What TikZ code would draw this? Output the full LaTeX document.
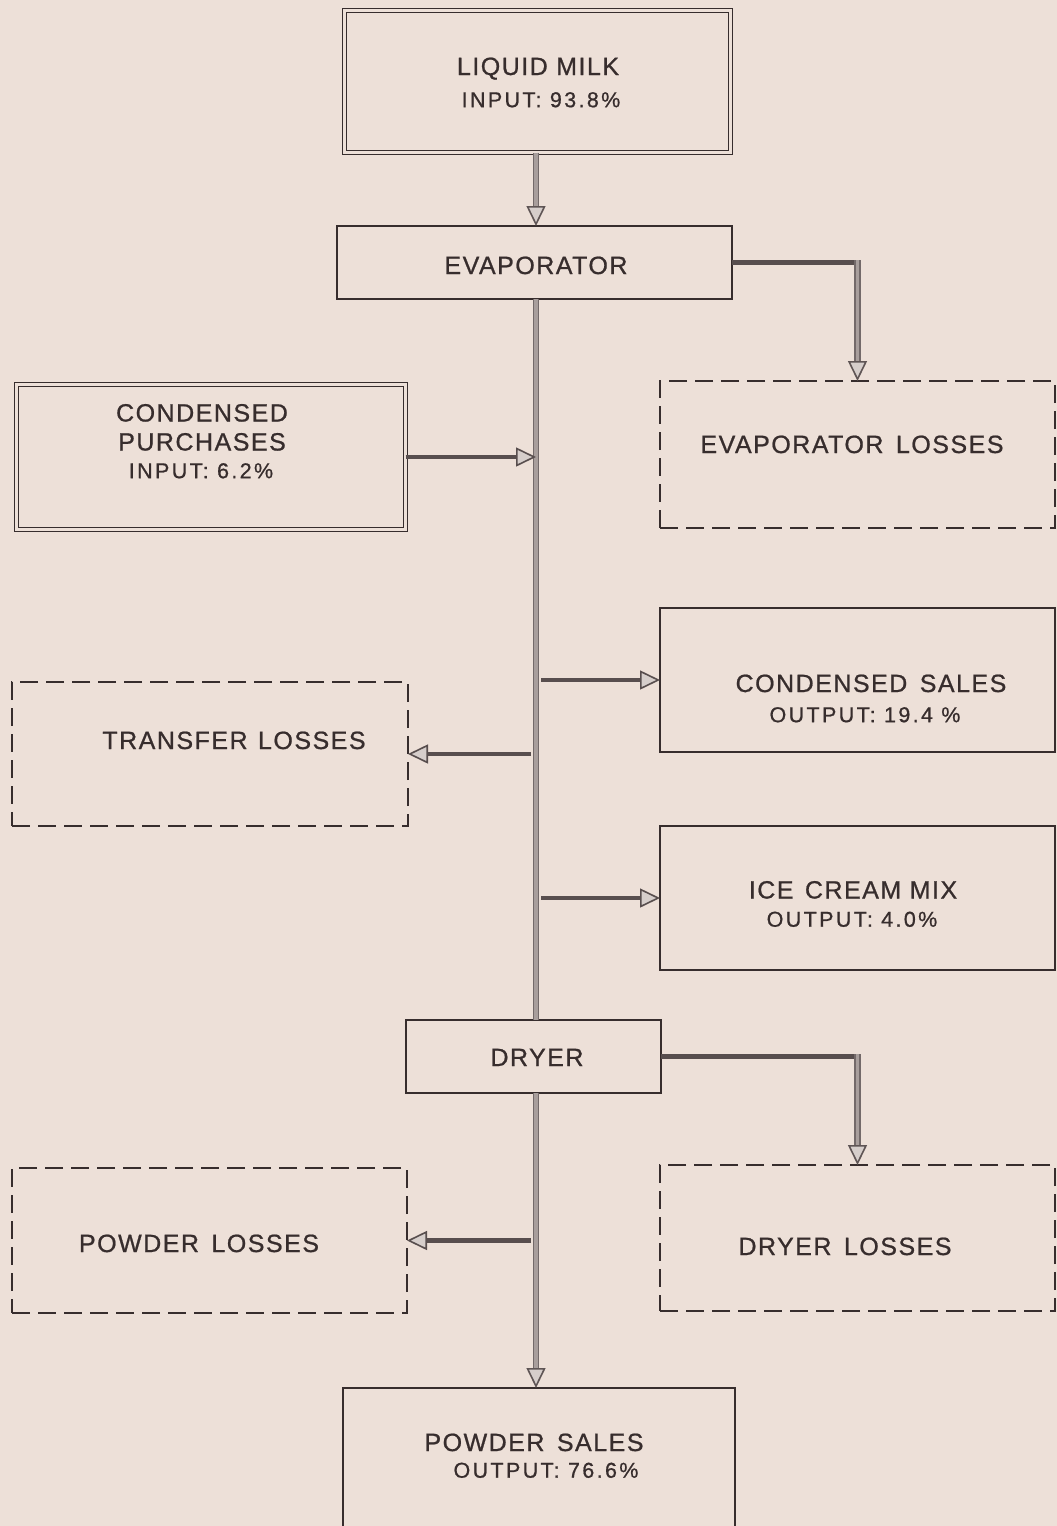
\documentclass[tikz,border=0pt]{standalone}
\usepackage{fontspec}
\setmainfont{Liberation Sans}[LetterSpace=6,FakeBold=0.8]
\usetikzlibrary{arrows.meta}
\definecolor{bg}{RGB}{237,224,216}
\definecolor{ink}{RGB}{55,45,45}
\definecolor{flow}{RGB}{88,78,78}
\definecolor{spineedge}{RGB}{115,105,105}
\definecolor{spinefill}{RGB}{168,158,156}
\definecolor{headfill}{RGB}{214,206,203}
\definecolor{headedge}{RGB}{95,85,85}
\tikzset{
  boxbase/.style={inner sep=0pt, outer sep=0pt},
  solidbox/.style={boxbase, draw=ink, line width=2.3pt},
  dblbox/.style={boxbase, draw=ink, double=bg, double distance=2.6pt, line width=1.6pt},
  dashbox/.style={boxbase, draw=ink, line width=1.9pt, dash pattern=on 18pt off 8pt},
  big/.style={font=\fontsize{25}{29}\selectfont, text=ink, text height=18pt, text depth=0pt, inner sep=0pt},
  small/.style={font=\fontsize{21.5}{25}\selectfont\addfontfeature{LetterSpace=11}, text=ink, text height=15.4pt, text depth=0pt, inner sep=0pt},
  tip/.style={-{Triangle[length=20pt,width=19pt,fill=headfill,line width=1.6pt]}},
  flowarrow/.style={draw=flow, line width=4.5pt, tip},
  flowplain/.style={draw=flow, line width=4.5pt},
  spineline/.style={draw=spineedge, double=spinefill, double distance=3.4pt, line width=1.5pt},
  headonly/.style={draw=headedge, line width=1pt, tip},
}
\begin{document}
\begin{tikzpicture}[x=1pt,y=-1pt]
\fill[bg] (0,0) rectangle (1057,1526);
\useasboundingbox (0,0) rectangle (1057,1526);
\clip (0,0) rectangle (1057,1526);
\coordinate (spine) at (536,0);
% boxes
\node[dblbox, minimum width=386pt, minimum height=142pt] (milk) at (537.5,81.5) {};
\node[solidbox, minimum width=395pt, minimum height=73pt] (evap) at (534.5,262.5) {};
\node[dashbox, minimum width=395pt, minimum height=147pt] (evloss) at (857.5,454.5) {};
\node[dblbox, minimum width=389pt, minimum height=145pt] (cpurch) at (211,457) {};
\node[solidbox, minimum width=395pt, minimum height=144pt] (csales) at (857.5,680) {};
\node[dashbox, minimum width=396pt, minimum height=144pt] (tloss) at (210,754) {};
\node[solidbox, minimum width=395pt, minimum height=144pt] (icm) at (857.5,898) {};
\node[solidbox, minimum width=255pt, minimum height=73pt] (dryer) at (533.5,1056.5) {};
\node[dashbox, minimum width=395pt, minimum height=146pt] (dloss) at (857.5,1238) {};
\node[dashbox, minimum width=395pt, minimum height=145pt] (ploss) at (209.5,1240.5) {};
\node[solidbox, minimum width=392pt, minimum height=157pt] (psales) at (539,1466.5) {};
% texts
\node[big] (tmilk) at (538,66) {LIQUID MILK};
\node[small] (tmilkb) at (541,99.5) {INPUT: 93.8\%};
\node[big] (tevap) at (536,265) {EVAPORATOR};
\node[big] (tevloss) at (852,444) {EVAPORATOR\hspace{4pt} LOSSES};
\node[big] (tcp1) at (202,412.5) {CONDENSED};
\node[big] (tcp2) at (202,441.5) {PURCHASES};
\node[small] (tcp3) at (201,470.5) {INPUT: 6.2\%};
\node[big] (tcs1) at (871,683) {CONDENSED\hspace{4pt} SALES};
\node[small] (tcs2) at (865,714.5) {OUTPUT: 19.4 \%};
\node[big] (ttl) at (234,740) {TRANSFER\hspace{2pt} LOSSES};
\node[big] (tic1) at (853,889.5) {ICE\hspace{3pt} CREAM MIX};
\node[small] (tic2) at (852,919) {OUTPUT: 4.0\%};
\node[big] (tdry) at (537,1057) {DRYER};
\node[big] (tpl) at (199,1243) {POWDER\hspace{4pt} LOSSES};
\node[big] (tdl) at (845,1246) {DRYER\hspace{4pt} LOSSES};
\node[big] (tps1) at (534,1442) {POWDER\hspace{4pt} SALES};
\node[small] (tps2) at (546,1470) {OUTPUT: 76.6\%};
% main vertical flow
\draw[spineline] (milk.south -| spine) -- ([yshift=18pt]evap.north -| spine);
\draw[headonly] ([yshift=2pt]evap.north -| spine) -- (evap.north -| spine);
\draw[spineline] (evap.south -| spine) -- (dryer.north -| spine);
\draw[spineline] (dryer.south -| spine) -- ([yshift=18pt]psales.north -| spine);
\draw[headonly] ([yshift=2pt]psales.north -| spine) -- (psales.north -| spine);
% elbow flows to loss boxes
\coordinate (ecorner) at (evloss.north |- evap.east);
\draw[flowplain] (evap.east) -- ([xshift=2.2pt]ecorner);
\draw[spineline] ([yshift=2.2pt]ecorner) -- ([yshift=18pt]evloss.north);
\draw[headonly] ([yshift=2pt]evloss.north) -- (evloss.north);
\coordinate (dcorner) at (dloss.north |- dryer.east);
\draw[flowplain] (dryer.east) -- ([xshift=2.2pt]dcorner);
\draw[spineline] ([yshift=2.2pt]dcorner) -- ([yshift=18pt]dloss.north);
\draw[headonly] ([yshift=2pt]dloss.north) -- (dloss.north);
% side flows
\draw[flowarrow] (cpurch.east) -- (cpurch.east -| spine);
\draw[flowarrow] ([xshift=5pt]csales.west -| spine) -- (csales.west);
\draw[flowarrow] ([xshift=-5pt]tloss.east -| spine) -- (tloss.east);
\draw[flowarrow] ([xshift=5pt]icm.west -| spine) -- (icm.west);
\draw[flowarrow] ([xshift=-5pt]ploss.east -| spine) -- (ploss.east);
\end{tikzpicture}
\end{document}
